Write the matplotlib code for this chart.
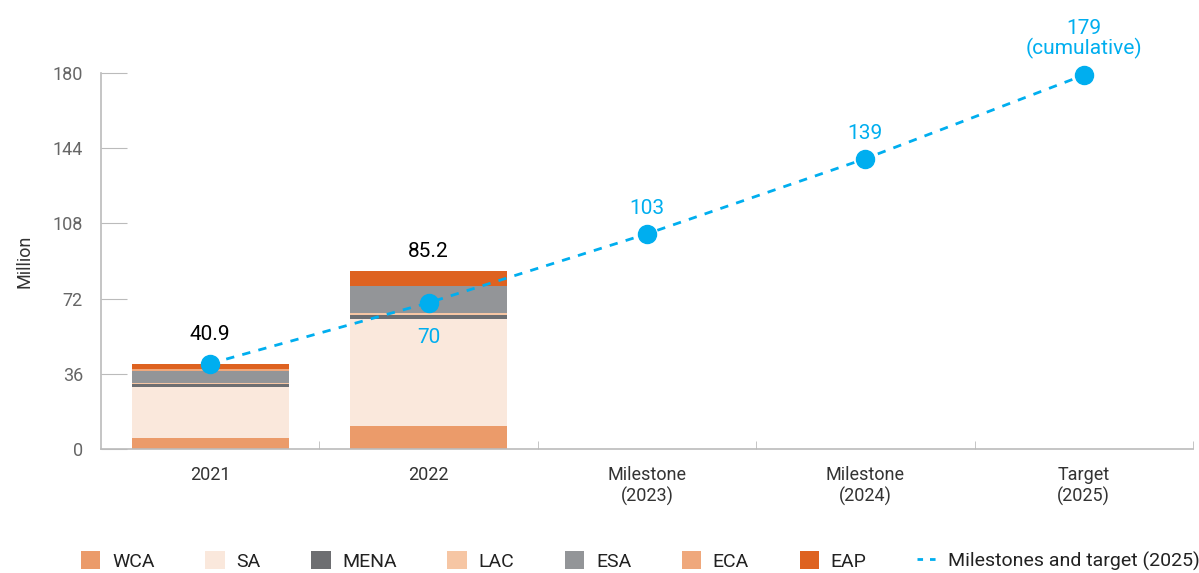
import numpy as np
import matplotlib
matplotlib.use("Agg")
import matplotlib.pyplot as plt
from matplotlib.lines import Line2D
from matplotlib.patches import Patch

plt.rcParams['font.family'] = ['Roboto', 'DejaVu Sans']

# data
categories = ['2021', '2022', 'Milestone\n(2023)', 'Milestone\n(2024)', 'Target\n(2025)']
regions = ['WCA', 'SA', 'MENA', 'LAC', 'ESA', 'ECA', 'EAP']
region_colors = ['#EB9B6A', '#FAE8DC', '#6D6E71', '#F6C6A4', '#939598', '#EFA87C', '#DE6220']
region_values = {
    'WCA':  [5.5, 11.0],
    'SA':   [24.1, 51.3],
    'MENA': [1.3, 1.9],
    'LAC':  [0.9, 1.0],
    'ESA':  [5.4, 12.9],
    'ECA':  [1.0, 0.0],
    'EAP':  [2.7, 7.1],
}
bar_totals = [40.9, 85.2]
target_values = [40.9, 70, 103, 139, 179]
target_labels = ['', '70', '103', '139', '179\n(cumulative)']
blue = '#00AEEF'

fig = plt.figure(figsize=(11.99, 5.73), dpi=100)
ax = fig.add_axes([0.0842, 0.2164, 0.9108, 0.6562])

x = np.arange(len(categories))
bottom = np.zeros(2)
for name, col in zip(regions, region_colors):
    vals = np.array(region_values[name])
    ax.bar(x[:2], vals, bottom=bottom, width=0.72, color=col, zorder=2)
    bottom += vals

# totals above the bars
for i, t in enumerate(bar_totals):
    off = 29 if i == 0 else 20
    ax.annotate('%.1f' % t, (x[i], max(t, target_values[i])), xytext=(0, off),
                textcoords='offset pixels', ha='center', va='center',
                fontsize=15, color='black', zorder=5)

# milestone line
ax.plot(x, target_values, ls=(0, (3, 3)), lw=2, color=blue, zorder=3, clip_on=False)
ax.plot(x, target_values, ls='none', marker='o', ms=13, color=blue, zorder=4, clip_on=False)
for i in range(1, 5):
    if i == 1:
        ax.annotate(target_labels[i], (x[i], target_values[i]), xytext=(0, -35),
                    textcoords='offset pixels', ha='center', va='center',
                    fontsize=15, color=blue, zorder=5)
    elif i == 4:
        ax.annotate(target_labels[i], (x[i], target_values[i]), xytext=(0, 16),
                    textcoords='offset pixels', ha='center', va='bottom',
                    fontsize=15, color=blue, zorder=5, linespacing=1.0)
    else:
        ax.annotate(target_labels[i], (x[i], target_values[i]), xytext=(0, 25),
                    textcoords='offset pixels', ha='center', va='center',
                    fontsize=15, color=blue, zorder=5)

ax.set_xlim(-0.5, 4.5)
ax.set_ylim(0, 180)
ax.set_yticks([0, 36, 72, 108, 144, 180])
ax.set_xticks(x)
ax.set_xticklabels(categories, fontsize=13, color='#333333')
ax.set_xticks(np.arange(0.5, 4.6, 1), minor=True)
ax.tick_params(axis='x', which='major', length=0, pad=12)
ax.tick_params(axis='x', which='minor', direction='in', length=6, color='#BBBBBB')
ax.tick_params(axis='y', direction='in', length=19, color='#BBBBBB', labelsize=13,
               labelcolor='#666666', pad=13)
for s in ['top', 'right']:
    ax.spines[s].set_visible(False)
for s in ['left', 'bottom']:
    ax.spines[s].set_color('#BBBBBB')
    ax.spines[s].set_linewidth(1.2)
ax.set_ylabel('Million', fontsize=13, color='#333333', labelpad=14)

handles = [Patch(facecolor=c, edgecolor='none') for c in region_colors]
handles.append(Line2D([0], [0], color=blue, lw=2, ls=(0, (2, 2.5))))
labels = regions + ['Milestones and target (2025)']
fig.legend(handles, labels, loc='lower left', bbox_to_anchor=(0.053, -0.027), ncol=8,
           frameon=False, fontsize=14, handlelength=1.0, handleheight=1.0,
           handletextpad=0.6, columnspacing=2.6, labelcolor='#222222')

plt.savefig('out.png', dpi=100)
